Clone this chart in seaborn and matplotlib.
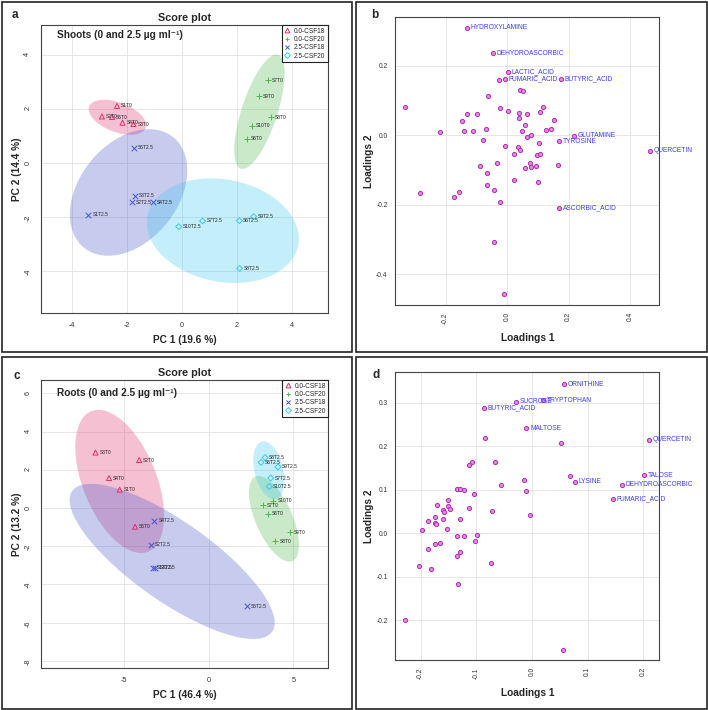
import numpy as np
import pandas as pd
import matplotlib
matplotlib.use('Agg')
import matplotlib.pyplot as plt
import seaborn as sns
from matplotlib.patches import Ellipse, Rectangle
from matplotlib.lines import Line2D

# groups shared by both score plots
groups = ['0.0-CSF18', '0.0-CSF20', '2.5-CSF18', '2.5-CSF20']
group_colors = ['#E0336A', '#4DB84D', '#4656CC', '#3CC8EE']
group_markers = ['^', '+', 'x', 'D']

# a - shoots score plot
shoot_names = ['S1T0', 'S2T0', 'S5T0', 'S4T0', 'S3T0',
               'S7T0', 'S9T0', 'S8T0', 'S10T0', 'S6T0',
               'S5T2.5', 'S3T2.5', 'S2T2.5', 'S4T2.5', 'S1T2.5',
               'S10T2.5', 'S7T2.5', 'S6T2.5', 'S9T2.5', 'S8T2.5']
shoot_pc1 = [-2.37, -2.92, -2.55, -2.17, -1.77,
             3.14, 2.80, 3.25, 2.55, 2.37,
             -1.74, -1.72, -1.82, -1.05, -3.41,
             -0.12, 0.75, 2.09, 2.61, 2.10]
shoot_pc2 = [2.11, 1.72, 1.70, 1.49, 1.44,
             3.05, 2.47, 1.70, 1.37, 0.89,
             0.56, -1.20, -1.44, -1.44, -1.91,
             -2.35, -2.14, -2.13, -1.98, -3.89]
shoot_group = ['0.0-CSF18'] * 5 + ['0.0-CSF20'] * 5 + ['2.5-CSF18'] * 5 + ['2.5-CSF20'] * 5

# c - roots score plot
root_names = ['S3T0', 'S2T0', 'S4T0', 'S1T0', 'S5T0',
              'S10T0', 'S7T0', 'S6T0', 'S9T0', 'S8T0',
              'S4T2.5', 'S2T2.5', 'S1T2.5', 'S3T2.5', 'S5T2.5',
              'S8T2.5', 'S6T2.5', 'S9T2.5', 'S7T2.5', 'S10T2.5']
root_pc1 = [-6.69, -4.11, -5.89, -5.26, -4.35,
            3.82, 3.21, 3.48, 4.80, 3.94,
            -3.21, -3.44, -3.27, -3.15, 2.26,
            3.33, 3.09, 4.09, 3.66, 3.58]
root_pc2 = [2.90, 2.51, 1.57, 0.96, -0.98,
            0.38, 0.14, -0.30, -1.27, -1.75,
            -0.66, -1.92, -3.13, -3.13, -5.13,
            2.64, 2.39, 2.15, 1.57, 1.12]
root_group = ['0.0-CSF18'] * 5 + ['0.0-CSF20'] * 5 + ['2.5-CSF18'] * 5 + ['2.5-CSF20'] * 5

# b - shoots loadings (only the labelled metabolites have names)
shoot_load_names = ['HYDROXYLAMINE', 'DEHYDROASCORBIC', 'LACTIC_ACID', '', 'FUMARIC_ACID',
                    'BUTYRIC_ACID', '', '', '', '', '', '', '', '', '', '', '', '', '', '',
                    '', '', '', '', '', '', '', '', '', '', '', 'GLUTAMINE', '', 'TYROSINE',
                    '', '', '', '', 'QUERCETIN', '', '', '', '', '', '', '', '', '', '', '',
                    '', '', '', '', '', '', '', '', 'ASCORBIC_ACID', '', '']
shoot_load1 = [-0.130, -0.045, 0.003, -0.026, -0.007, 0.176, 0.043, 0.053, -0.062, -0.332,
               -0.023, 0.003, 0.117, -0.131, -0.098, 0.040, 0.063, 0.107, -0.148, 0.040,
               0.152, -0.220, -0.140, -0.110, -0.068, 0.058, 0.048, 0.125, 0.142, 0.078,
               0.063, 0.219, -0.080, 0.169, 0.103, -0.008, 0.034, 0.041, 0.465, 0.021,
               0.098, 0.107, -0.034, 0.073, -0.088, 0.078, 0.095, 0.058, 0.164, -0.067,
               0.021, 0.100, -0.067, -0.042, -0.283, -0.156, -0.172, -0.024, 0.169, -0.043,
               -0.011]
shoot_load2 = [0.310, 0.236, 0.183, 0.159, 0.162, 0.162, 0.130, 0.128, 0.113, 0.081,
               0.080, 0.071, 0.083, 0.061, 0.063, 0.065, 0.062, 0.067, 0.042, 0.049,
               0.045, 0.011, 0.014, 0.012, 0.018, 0.030, 0.012, 0.016, 0.018, 0.001,
               -0.004, -0.001, -0.013, -0.017, -0.021, -0.031, -0.034, -0.042, -0.044, -0.053,
               -0.057, -0.054, -0.079, -0.078, -0.088, -0.090, -0.087, -0.094, -0.084, -0.108,
               -0.129, -0.135, -0.144, -0.157, -0.165, -0.163, -0.178, -0.192, -0.209, -0.308,
               -0.457]

# d - roots loadings
root_load_names = ['ORNITHINE', 'SUCROSE', 'TRYPTOPHAN', 'BUTYRIC_ACID', 'MALTOSE', '', '',
                   'QUERCETIN', '', '', '', '', 'TALOSE', 'LYSINE', 'DEHYDROASCORBIC', '', '',
                   '', 'FUMARIC_ACID', '', '', '', '', '', '', '', '', '', '', '', '', '',
                   '', '', '', '', '', '', '', '', '', '', '', '', '', '', '', '', '', '',
                   '', '', '', '', '']
root_load1 = [0.0575, -0.029, 0.020, -0.086, -0.010, -0.084, 0.052, 0.211, -0.107, -0.114,
              -0.067, 0.069, 0.202, 0.077, 0.161, -0.056, -0.014, -0.011, 0.145, -0.135,
              -0.130, -0.122, -0.104, -0.171, -0.150, -0.150, -0.160, -0.147, -0.158, -0.113,
              -0.072, -0.004, -0.175, -0.159, -0.129, -0.187, -0.174, -0.172, -0.152, -0.198,
              -0.135, -0.122, -0.099, -0.102, -0.175, -0.165, -0.187, -0.130, -0.135, -0.074,
              -0.203, -0.181, -0.132, -0.228, 0.056]
root_load2 = [0.343, 0.302, 0.306, 0.288, 0.241, 0.218, 0.207, 0.215, 0.163, 0.156,
              0.163, 0.132, 0.133, 0.118, 0.112, 0.110, 0.122, 0.097, 0.080, 0.102,
              0.103, 0.099, 0.090, 0.065, 0.077, 0.062, 0.054, 0.057, 0.048, 0.059,
              0.051, 0.042, 0.038, 0.032, 0.033, 0.029, 0.024, 0.022, 0.010, 0.007,
              -0.006, -0.005, -0.004, -0.018, -0.024, -0.023, -0.037, -0.044, -0.052, -0.067,
              -0.075, -0.081, -0.117, -0.200, -0.268]

sns.set_theme(style='whitegrid')
plt.rcParams['font.family'] = ['Liberation Sans', 'DejaVu Sans']
plt.rcParams['axes.unicode_minus'] = False

W, H = 708, 710
fig = plt.figure(figsize=(W / 100, H / 100), dpi=100)


def px_axes(left, top, right, bottom):
    return fig.add_axes([left / W, 1 - bottom / H, (right - left) / W, (bottom - top) / H])


def style_axes(ax):
    ax.set_axisbelow(True)
    ax.grid(True, color='#E2E2E2', lw=0.6)
    for s in ax.spines.values():
        s.set_color('#444444')
        s.set_linewidth(0.8)


def score_plot(ax, names, pc1, pc2, grp, xlim, ylim, xticks, yticks, xlabel, ylabel, note, note_y):
    df = pd.DataFrame({'name': names, 'pc1': pc1, 'pc2': pc2, 'group': grp})
    chi2 = -2 * np.log(0.05)  # 95% region, 2 dof
    for g, col in zip(groups, group_colors):
        sub = df[df['group'] == g]
        vals, vecs = np.linalg.eigh(np.cov(sub['pc1'], sub['pc2']))
        angle = np.degrees(np.arctan2(vecs[1, 1], vecs[0, 1]))
        ax.add_patch(Ellipse((sub['pc1'].mean(), sub['pc2'].mean()),
                             2 * np.sqrt(chi2 * vals[1]), 2 * np.sqrt(chi2 * vals[0]),
                             angle=angle, facecolor=col, alpha=0.3, edgecolor='none', zorder=1))
    for g, col, m in zip(groups, group_colors, group_markers):
        sub = df[df['group'] == g]
        if m in ('^', 'D'):
            sns.scatterplot(data=sub, x='pc1', y='pc2', ax=ax, marker=m, s=13 if m == '^' else 9,
                            color=col, facecolor='none', edgecolor=col, linewidth=0.7,
                            zorder=3, legend=False)
        else:
            sns.scatterplot(data=sub, x='pc1', y='pc2', ax=ax, marker=m, s=16,
                            color=col, linewidth=0.7, zorder=3, legend=False)
        for _, r in sub.iterrows():
            ax.annotate(r['name'], (r['pc1'], r['pc2']), xytext=(2.8, 0),
                        textcoords='offset points', fontsize=3.5, va='center',
                        color='#222222', zorder=4)

    style_axes(ax)
    ax.set_xlim(xlim)
    ax.set_ylim(ylim)
    ax.set_xticks(xticks)
    ax.set_yticks(yticks)
    ax.set_xticklabels([str(t) for t in xticks])
    ax.set_yticklabels([str(t) for t in yticks])
    ax.tick_params(axis='both', length=0, labelsize=5.2, colors='#333333')
    ax.tick_params(axis='x', pad=6.5)
    ax.tick_params(axis='y', pad=7, labelrotation=90)
    ax.set_xlabel(xlabel, fontsize=7.3, fontweight='bold', labelpad=4)
    ax.set_ylabel(ylabel, fontsize=7.3, fontweight='bold', labelpad=2)
    ax.set_title('Score plot', fontsize=7.8, fontweight='bold', pad=3)
    ax.text(0.056, note_y, note, transform=ax.transAxes, fontsize=7.3,
            fontweight='bold', ha='left', va='center')

    handles = [Line2D([], [], ls='', marker=m, color=col, mec=col,
                      mfc='none' if m in ('^', 'D') else col, mew=0.7,
                      ms=3.0 if m == 'D' else 3.4)
               for col, m in zip(group_colors, group_markers)]
    leg = ax.legend(handles, groups, loc='upper right', fontsize=4.7, borderaxespad=0,
                    frameon=True, fancybox=False, edgecolor='#222222', framealpha=1,
                    handlelength=1.0, handletextpad=0.5, labelspacing=0.2, borderpad=0.4)
    leg.get_frame().set_linewidth(0.8)
    leg.set_zorder(5)


def loadings_plot(ax, names, l1, l2, xlim, ylim, xticks, yticks):
    df = pd.DataFrame({'name': names, 'l1': l1, 'l2': l2})
    sns.scatterplot(data=df, x='l1', y='l2', ax=ax, s=9, color='#E08CE0',
                    edgecolor='#B52DB5', linewidth=0.7, zorder=3, legend=False)
    for _, r in df[df['name'] != ''].iterrows():
        ax.annotate(r['name'], (r['l1'], r['l2']), xytext=(2.6, 0),
                    textcoords='offset points', fontsize=4.8, va='center',
                    color='#3C3CF5', zorder=4)
    style_axes(ax)
    ax.set_xlim(xlim)
    ax.set_ylim(ylim)
    ax.set_xticks(xticks)
    ax.set_yticks(yticks)
    ax.set_xticklabels(['{:.1f}'.format(t) for t in xticks])
    ax.set_yticklabels(['{:.1f}'.format(t) for t in yticks])
    ax.tick_params(axis='both', length=0, labelsize=4.8, colors='#333333')
    ax.tick_params(axis='x', pad=5.2, labelrotation=90)
    ax.tick_params(axis='y', pad=5.5)
    ax.set_xlabel('Loadings 1', fontsize=7.3, fontweight='bold', labelpad=7)
    ax.set_ylabel('Loadings 2', fontsize=7.3, fontweight='bold', labelpad=1.5)


ax_a = px_axes(41, 25, 328, 313)
score_plot(ax_a, shoot_names, shoot_pc1, shoot_pc2, shoot_group,
           (-5.14, 5.32), (-5.54, 5.10), [-4, -2, 0, 2, 4], [-4, -2, 0, 2, 4],
           'PC 1 (19.6 %)', 'PC 2 (14.4 %)', 'Shoots (0 and 2.5 µg ml⁻¹)', 0.965)

ax_b = px_axes(395.3, 17.3, 659.3, 305)
loadings_plot(ax_b, shoot_load_names, shoot_load1, shoot_load2,
              (-0.364, 0.495), (-0.488, 0.340), [-0.2, 0.0, 0.2, 0.4], [-0.4, -0.2, 0.0, 0.2])

ax_c = px_axes(41.3, 380, 328.3, 668.3)
score_plot(ax_c, root_names, root_pc1, root_pc2, root_group,
           (-9.89, 7.06), (-8.39, 6.70), [-5, 0, 5], [-8, -6, -4, -2, 0, 2, 4, 6],
           'PC 1 (46.4 %)', 'PC 2 (13.2 %)', 'Roots (0 and 2.5 µg ml⁻¹)', 0.954)

ax_d = px_axes(395.3, 372.3, 659.3, 660)
loadings_plot(ax_d, root_load_names, root_load1, root_load2,
              (-0.2455, 0.2287), (-0.291, 0.370), [-0.2, -0.1, 0.0, 0.1, 0.2],
              [-0.2, -0.1, 0.0, 0.1, 0.2, 0.3])

# panel frames and letters
for (x0, y0, x1, y1), letter, (lx, ly) in zip(
        [(1.5, 1.5, 352, 352), (356, 1.5, 706.5, 352),
         (1.5, 357, 352, 708.5), (356, 357, 706.5, 708.5)],
        ['a', 'b', 'c', 'd'],
        [(15, 15), (375, 15), (17, 376), (376, 375)]):
    fig.add_artist(Rectangle((x0 / W, 1 - y1 / H), (x1 - x0) / W, (y1 - y0) / H,
                             transform=fig.transFigure, fill=False,
                             edgecolor='#222222', lw=1.2))
    fig.text(lx / W, 1 - ly / H, letter, fontsize=8.5, fontweight='bold',
             ha='center', va='center')

fig.savefig('out.png', dpi=100)
